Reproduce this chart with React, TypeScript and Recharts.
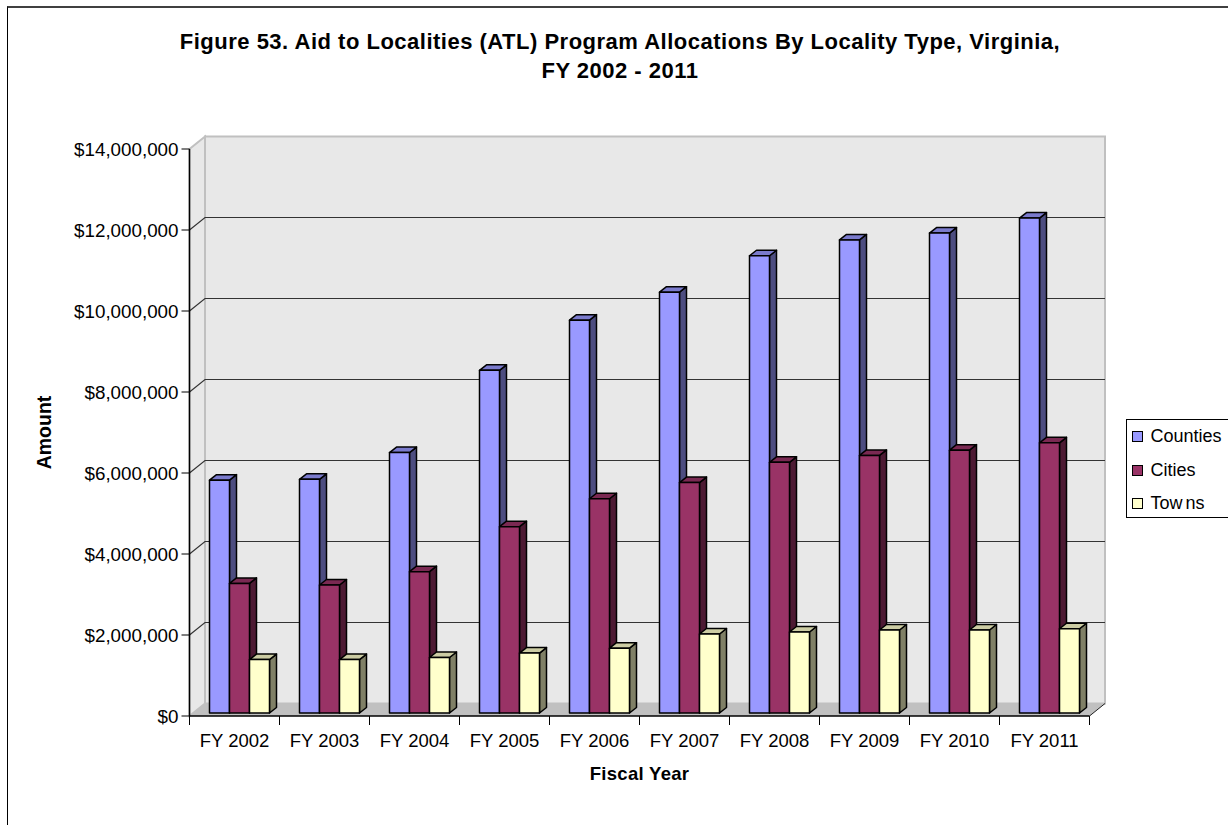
import React from 'react';
import { BarChart, Bar, XAxis, YAxis, CartesianGrid, Legend, ReferenceArea } from 'recharts';

const years = ['FY 2002', 'FY 2003', 'FY 2004', 'FY 2005', 'FY 2006', 'FY 2007', 'FY 2008', 'FY 2009', 'FY 2010', 'FY 2011'];
const counties = [5750000, 5770000, 6430000, 8460000, 9700000, 10390000, 11290000, 11680000, 11850000, 12220000];
const cities = [3200000, 3160000, 3490000, 4600000, 5290000, 5690000, 6190000, 6360000, 6490000, 6670000];
const towns = [1320000, 1320000, 1370000, 1480000, 1600000, 1950000, 2000000, 2050000, 2050000, 2080000];
const yTicks = [0, 2000000, 4000000, 6000000, 8000000, 10000000, 12000000, 14000000];

const chartData = years.map((year, i) => ({ year, counties: counties[i], cities: cities[i], towns: towns[i] }));

const FONT = '"Liberation Sans", Arial, sans-serif';
const WALL = '#e8e8e8';
const EDGE = '#c0c0c0';

// how far the back wall sits behind the axes
const WALL_DX = 15.5;
const WALL_DY = 12.5;
// bars stand a little in from the front of the floor
const BAR_DX = 5;
const BAR_DY = 3;
// depth of each bar
const DEPTH_X = 7;
const DEPTH_Y = 5.5;

const money = (v: number) => '$' + v.toLocaleString('en-US');

const Walls = ({ x, y, width, height }: any) => {
  const bottom = y + height;
  const right = x + width;
  return (
    <g>
      <polygon points={`${x},${y} ${x + WALL_DX},${y - WALL_DY} ${x + WALL_DX},${bottom - WALL_DY} ${x},${bottom}`} fill={WALL} stroke={EDGE} strokeWidth={2} />
      <rect x={x + WALL_DX} y={y - WALL_DY} width={width} height={height} fill={WALL} stroke={EDGE} strokeWidth={2} />
      <polygon points={`${x},${bottom} ${x + WALL_DX},${bottom - WALL_DY} ${right + WALL_DX},${bottom - WALL_DY} ${right},${bottom}`} fill={EDGE} />
      <line x1={right} y1={bottom} x2={right + WALL_DX} y2={bottom - WALL_DY} stroke="#222" />
    </g>
  );
};

// gridlines run up the side wall and then across the back wall
const GridLine = ({ x1, y1, x2 }: any) => {
  if (y1 < 150 || y1 > 700) return <g />;
  return (
    <path
      d={`M${x1},${y1} L${x1 + WALL_DX},${y1 - WALL_DY} L${x2 + WALL_DX},${y1 - WALL_DY}`}
      fill="none"
      stroke="#333"
      strokeWidth={1.2}
    />
  );
};

const makeBar = (front: string, top: string, side: string) => ({ x, y, width, height }: any) => {
  const l = x + BAR_DX;
  const r = l + width;
  const t = y - BAR_DY;
  const b = t + height;
  const line = { stroke: '#000', strokeWidth: 1.5, strokeLinejoin: 'round' as const };
  return (
    <g>
      <polygon points={`${r},${t} ${r + DEPTH_X},${t - DEPTH_Y} ${r + DEPTH_X},${b - DEPTH_Y} ${r},${b}`} fill={side} {...line} />
      <polygon points={`${l},${t} ${l + DEPTH_X},${t - DEPTH_Y} ${r + DEPTH_X},${t - DEPTH_Y} ${r},${t}`} fill={top} {...line} />
      <rect x={l} y={t} width={width} height={height} fill={front} {...line} />
    </g>
  );
};

// category ticks sit between the groups, the label in the middle
const YearTick = ({ x, y, payload, index }: any) => {
  const half = 45;
  return (
    <g>
      <line x1={x - half} y1={y - 8} x2={x - half} y2={y + 1} stroke="#000" />
      {index === years.length - 1 && <line x1={x + half} y1={y - 8} x2={x + half} y2={y + 1} stroke="#000" />}
      <text x={x} y={y + 23} textAnchor="middle" fontFamily={FONT} fontSize={18.5} fill="#000">
        {payload.value}
      </text>
    </g>
  );
};

const legendItems = [
  { label: <>Counties</>, color: '#9999ff' },
  { label: <>Cities</>, color: '#993366' },
  { label: <>Tow<span style={{ marginLeft: 3 }}>ns</span></>, color: '#ffffcc' },
];

const ChartLegend = () => (
  <div style={{ border: '1px solid #000', background: '#fff', height: 99, width: 110, boxSizing: 'border-box', paddingLeft: 5, fontFamily: FONT, fontSize: 18, color: '#000' }}>
    {legendItems.map((item, i) => (
      <div key={i} style={{ display: 'flex', alignItems: 'center', height: 33.5 }}>
        <span style={{ width: 11, height: 11, boxSizing: 'border-box', border: '1.5px solid #000', background: item.color, marginRight: 7.5, display: 'inline-block' }} />
        {item.label}
      </div>
    ))}
  </div>
);

export default function App() {
  return (
    <div style={{ position: 'absolute', left: 0, top: 0, width: 1228, height: 825, overflow: 'hidden', background: '#fff' }}>
      <div style={{ position: 'absolute', left: 7, top: 6, width: 1240, height: 840, borderTop: '2px solid #404040', borderLeft: '1.5px solid #000' }} />
      <BarChart
        width={1228}
        height={825}
        data={chartData}
        margin={{ top: 149, right: 138.5, bottom: 0, left: 0 }}
        barCategoryGap={15}
        barGap={0}
        style={{ position: 'absolute', left: 0, top: 0 }}
      >
        <ReferenceArea y1={0} y2={14000000} shape={<Walls />} ifOverflow="visible" zIndex={-200} />
        <CartesianGrid vertical={false} horizontal={(p: any) => <GridLine key={p.key} {...p} />} />
        <XAxis
          dataKey="year"
          height={109}
          tick={<YearTick />}
          tickLine={false}
          axisLine={{ stroke: '#000', strokeWidth: 1.5 }}
          interval={0}
          label={{ value: 'Fiscal Year', position: 'insideBottom', offset: 45, fontFamily: FONT, fontSize: 18.5, fontWeight: 700, letterSpacing: 0.3, fill: '#000' }}
        />
        <YAxis
          width={189.5}
          domain={[0, 14000000]}
          ticks={yTicks}
          tickFormatter={money}
          tick={{ fontFamily: FONT, fontSize: 18.8, fill: '#000' }}
          tickSize={8}
          tickMargin={3}
          tickLine={{ stroke: '#000' }}
          axisLine={{ stroke: '#000', strokeWidth: 1.5 }}
          label={{ value: 'Amount', angle: -90, position: 'insideLeft', textAnchor: 'middle', offset: 44.5, fontFamily: FONT, fontSize: 19.5, fontWeight: 700, fill: '#000' }}
        />
        <Bar dataKey="counties" name="Counties" isAnimationActive={false} shape={makeBar('#9999ff', '#7a7acc', '#4d4d80')} />
        <Bar dataKey="cities" name="Cities" isAnimationActive={false} shape={makeBar('#993366', '#7a2952', '#4d1a33')} />
        <Bar dataKey="towns" name="Towns" isAnimationActive={false} shape={makeBar('#ffffcc', '#cccca3', '#808066')} />
        <Legend
          layout="horizontal"
          align="center"
          verticalAlign="middle"
          content={<ChartLegend />}
          wrapperStyle={{ left: 1126, top: 419, width: 110, height: 99 }}
        />
        <text x={620} y={49} textAnchor="middle" fontFamily={FONT} fontSize={22} fontWeight={700} letterSpacing={0.5} fill="#000">
          Figure 53. Aid to Localities (ATL) Program Allocations By Locality Type, Virginia,
        </text>
        <text x={620} y={78} textAnchor="middle" fontFamily={FONT} fontSize={22} fontWeight={700} letterSpacing={0.5} fill="#000">
          FY 2002 - 2011
        </text>
      </BarChart>
    </div>
  );
}
